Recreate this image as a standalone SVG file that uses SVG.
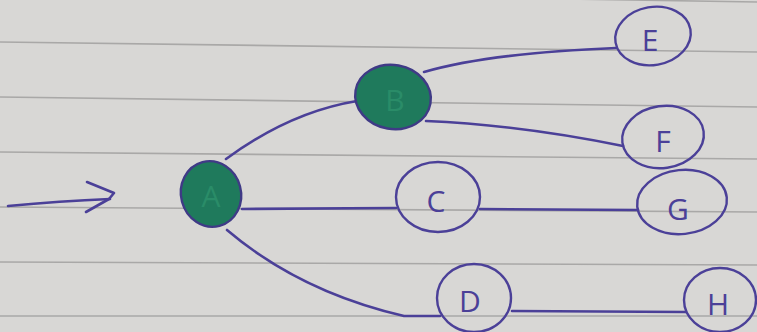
<svg xmlns="http://www.w3.org/2000/svg" width="757" height="332" viewBox="0 0 757 332">
<defs>
<style>
.paper{fill:#d8d7d5}
.rule{stroke:#a9a8a7;stroke-width:1.6;fill:none}
.pen{stroke:#4b4098;stroke-width:2.6;fill:none;stroke-linecap:round;stroke-linejoin:round}
.ring{stroke:#4b4098;stroke-width:2.4;fill:none}
.filled{stroke:#3f3a86;stroke-width:2.4;fill:#1f7a5c}
.lbl{font-family:"Open Sans","DejaVu Sans",sans-serif;font-weight:400;font-size:30px;fill:#4b4098;text-anchor:middle;dominant-baseline:central}
.glbl{font-family:"Open Sans","DejaVu Sans",sans-serif;font-size:30px;fill:#2a8c68;text-anchor:middle;dominant-baseline:central}
</style>
<linearGradient id="shade" x1="0" y1="0" x2="1" y2="0">
<stop offset="0" stop-color="#dddcda"/>
<stop offset="1" stop-color="#d3d2d0"/>
</linearGradient>
</defs>
<rect class="paper" x="0" y="0" width="757" height="332" fill="url(#shade)"/>
<g id="rules">
<line class="rule" x1="0" y1="-10" x2="757" y2="2"/>
<line class="rule" x1="0" y1="42" x2="757" y2="52"/>
<line class="rule" x1="0" y1="97" x2="757" y2="107"/>
<line class="rule" x1="0" y1="152" x2="757" y2="159"/>
<line class="rule" x1="0" y1="207" x2="757" y2="212"/>
<line class="rule" x1="0" y1="262" x2="757" y2="265"/>
<line class="rule" x1="0" y1="316" x2="757" y2="316"/>
</g>
<g id="connectors">
<path class="pen" d="M8,206 Q60,201 110,199"/>
<path class="pen" d="M87,182 L114,193 L109,199 L86,212"/>
<path class="pen" d="M226,159 Q290,112 357,101"/>
<path class="pen" d="M424,72 Q490,53 616,48"/>
<path class="pen" d="M426,121 Q520,125 623,146"/>
<path class="pen" d="M242,209 L396,208"/>
<path class="pen" d="M480,209 L638,210"/>
<path class="pen" d="M227,230 Q300,292 404,316 L440,316"/>
<path class="pen" d="M512,311 L686,312"/>
</g>
<g id="node-A">
<ellipse class="filled" cx="211" cy="194" rx="30" ry="33" transform="rotate(-15 211 194)"/>
<text class="glbl" x="211" y="195">A</text>
</g>
<g id="node-B">
<ellipse class="filled" cx="393" cy="97" rx="38" ry="32" transform="rotate(10 393 97)"/>
<text class="glbl" x="395" y="99">B</text>
</g>
<g id="node-E">
<ellipse class="ring" cx="653" cy="36" rx="38" ry="29" transform="rotate(-10 653 36)"/>
<text class="lbl" x="650" y="39">E</text>
</g>
<g id="node-F">
<ellipse class="ring" cx="663" cy="137" rx="41" ry="31" transform="rotate(-8 663 137)"/>
<text class="lbl" x="663" y="140">F</text>
</g>
<g id="node-C">
<ellipse class="ring" cx="438" cy="197" rx="42" ry="35"/>
<text class="lbl" x="436" y="200">C</text>
</g>
<g id="node-G">
<ellipse class="ring" cx="682" cy="202" rx="45" ry="32" transform="rotate(-6 682 202)"/>
<text class="lbl" x="678" y="208">G</text>
</g>
<g id="node-D">
<ellipse class="ring" cx="474" cy="298" rx="37" ry="34"/>
<text class="lbl" x="470" y="300">D</text>
</g>
<g id="node-H">
<ellipse class="ring" cx="720" cy="300" rx="36" ry="32"/>
<text class="lbl" x="718" y="303">H</text>
</g>
</svg>
